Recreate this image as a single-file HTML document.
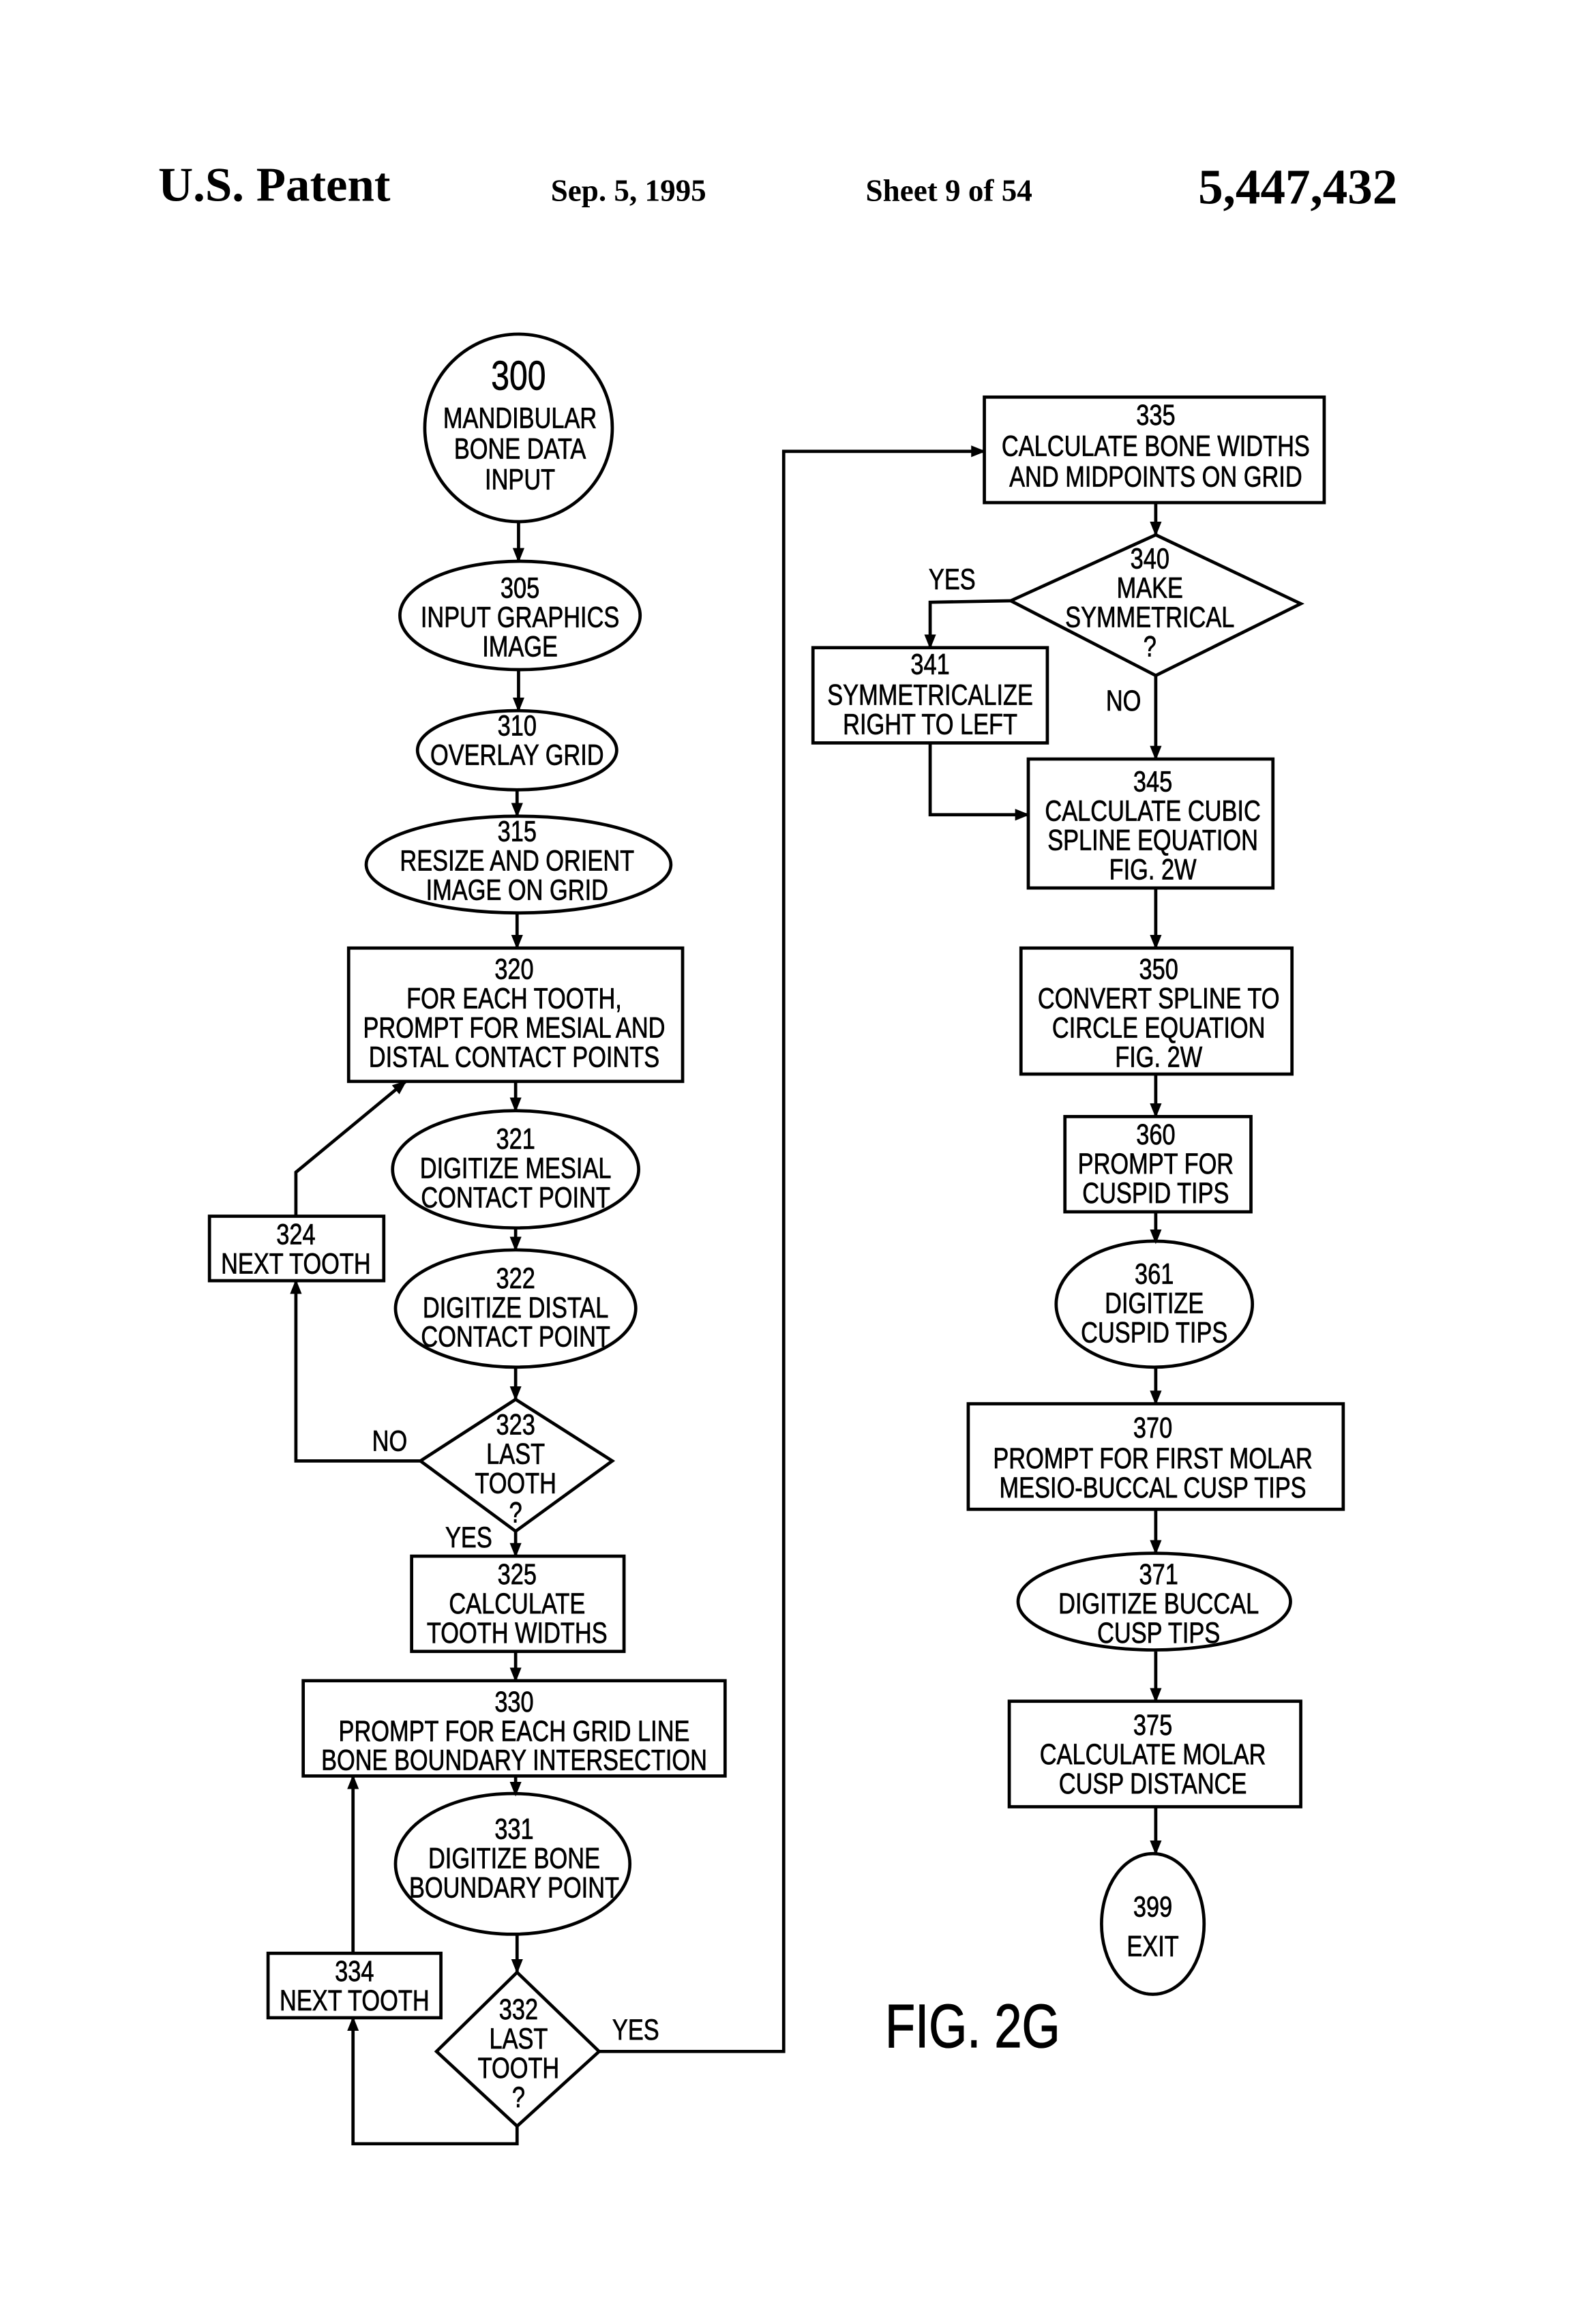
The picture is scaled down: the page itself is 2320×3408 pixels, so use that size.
<!DOCTYPE html>
<html><head><meta charset="utf-8"><style>
html,body{margin:0;padding:0;background:#fff;}
svg{display:block;}
.t{font-family:"Liberation Sans",sans-serif;font-size:20px;text-anchor:middle;fill:#000;stroke:#000;stroke-width:0.35;}
.h{font-family:"Liberation Serif",serif;font-weight:bold;fill:#000;}
.s{fill:none;stroke:#000;stroke-width:2.2;}
</style></head><body>
<svg width="2320" height="3408" viewBox="0 0 1080 1586" preserveAspectRatio="none" xmlns="http://www.w3.org/2000/svg">
<defs><marker id="a" markerWidth="10" markerHeight="10" refX="9" refY="5" orient="auto" markerUnits="userSpaceOnUse"><path d="M0,1 L10,5 L0,9 Z" fill="#000"/></marker></defs>
<text class="h" x="108" y="137" font-size="33">U.S. Patent</text>
<text class="h" x="376" y="137" font-size="21">Sep. 5, 1995</text>
<text class="h" x="591" y="137" font-size="21">Sheet 9 of 54</text>
<text class="h" x="818" y="139" font-size="34">5,447,432</text>

<g class="s">
<ellipse cx="354" cy="292" rx="64" ry="64"/>
<ellipse cx="355" cy="420" rx="82" ry="37"/>
<ellipse cx="353" cy="512" rx="68" ry="27"/>
<ellipse cx="354" cy="590" rx="104" ry="33"/>
<rect x="238" y="647" width="228" height="91"/>
<ellipse cx="352" cy="798" rx="84" ry="40"/>
<rect x="143" y="830" width="119" height="44"/>
<ellipse cx="352" cy="893" rx="82" ry="40"/>
<polygon points="352,955 418,997 352,1045 287,997"/>
<rect x="281" y="1062" width="145" height="65"/>
<rect x="207" y="1147" width="288" height="65"/>
<ellipse cx="350" cy="1272" rx="80" ry="48"/>
<rect x="183" y="1333" width="118" height="44"/>
<polygon points="353,1346 409,1400 353,1451 298,1400"/>

<rect x="672" y="271" width="232" height="72"/>
<polygon points="789,365 888,412 789,461 690,410"/>
<rect x="555" y="442" width="160" height="65"/>
<rect x="702" y="518" width="167" height="88"/>
<rect x="697" y="647" width="185" height="86"/>
<rect x="727" y="762" width="127" height="65"/>
<ellipse cx="788" cy="890" rx="67" ry="43"/>
<rect x="661" y="958" width="256" height="72"/>
<ellipse cx="788" cy="1093" rx="93" ry="33"/>
<rect x="689" y="1161" width="199" height="72"/>
<ellipse cx="787" cy="1313" rx="35" ry="48"/>

<line x1="354" y1="356" x2="354" y2="383" marker-end="url(#a)"/>
<line x1="354" y1="457" x2="354" y2="485" marker-end="url(#a)"/>
<line x1="353" y1="539" x2="353" y2="557" marker-end="url(#a)"/>
<line x1="353" y1="623" x2="353" y2="647" marker-end="url(#a)"/>
<line x1="352" y1="738" x2="352" y2="758" marker-end="url(#a)"/>
<line x1="352" y1="838" x2="352" y2="853" marker-end="url(#a)"/>
<line x1="352" y1="933" x2="352" y2="955" marker-end="url(#a)"/>
<line x1="352" y1="1045" x2="352" y2="1062" marker-end="url(#a)"/>
<line x1="352" y1="1127" x2="352" y2="1147" marker-end="url(#a)"/>
<line x1="352" y1="1212" x2="352" y2="1225" marker-end="url(#a)"/>
<line x1="353" y1="1320" x2="353" y2="1346" marker-end="url(#a)"/>
<polyline points="287,997 202,997 202,874" marker-end="url(#a)"/>
<polyline points="202,830 202,800 277,738" marker-end="url(#a)"/>
<polyline points="353,1451 353,1463 241,1463 241,1377" marker-end="url(#a)"/>
<polyline points="241,1333 241,1212" marker-end="url(#a)"/>
<polyline points="409,1400 535,1400 535,308 672,308" marker-end="url(#a)"/>

<line x1="789" y1="343" x2="789" y2="365" marker-end="url(#a)"/>
<polyline points="690,410 635,411 635,442" marker-end="url(#a)"/>
<line x1="789" y1="461" x2="789" y2="518" marker-end="url(#a)"/>
<polyline points="635,507 635,556 702,556" marker-end="url(#a)"/>
<line x1="789" y1="606" x2="789" y2="647" marker-end="url(#a)"/>
<line x1="789" y1="733" x2="789" y2="762" marker-end="url(#a)"/>
<line x1="789" y1="827" x2="789" y2="848" marker-end="url(#a)"/>
<line x1="789" y1="934" x2="789" y2="958" marker-end="url(#a)"/>
<line x1="789" y1="1030" x2="789" y2="1060" marker-end="url(#a)"/>
<line x1="789" y1="1127" x2="789" y2="1161" marker-end="url(#a)"/>
<line x1="789" y1="1233" x2="789" y2="1265" marker-end="url(#a)"/>
</g>

<g class="t" transform="scale(0.8 1)">
<text x="442.5" y="266" font-size="28">300</text>
<text x="443.75" y="292">MANDIBULAR</text><text x="443.75" y="313">BONE DATA</text><text x="443.75" y="334">INPUT</text>
<text x="443.75" y="408">305</text><text x="443.75" y="428">INPUT GRAPHICS</text><text x="443.75" y="448">IMAGE</text>
<text x="441.25" y="502">310</text><text x="441.25" y="522">OVERLAY GRID</text>
<text x="441.25" y="574">315</text><text x="441.25" y="594">RESIZE AND ORIENT</text><text x="441.25" y="614">IMAGE ON GRID</text>
<text x="438.75" y="668">320</text><text x="438.75" y="688">FOR EACH TOOTH,</text><text x="438.75" y="708">PROMPT FOR MESIAL AND</text><text x="438.75" y="728">DISTAL CONTACT POINTS</text>
<text x="440" y="784">321</text><text x="440" y="804">DIGITIZE MESIAL</text><text x="440" y="824">CONTACT POINT</text>
<text x="252.5" y="849">324</text><text x="252.5" y="869">NEXT TOOTH</text>
<text x="440" y="879">322</text><text x="440" y="899">DIGITIZE DISTAL</text><text x="440" y="919">CONTACT POINT</text>
<text x="440" y="979">323</text><text x="440" y="999">LAST</text><text x="440" y="1019">TOOTH</text><text x="440" y="1039">?</text>
<text x="332.5" y="990">NO</text><text x="400" y="1056">YES</text>
<text x="441.25" y="1081">325</text><text x="441.25" y="1101">CALCULATE</text><text x="441.25" y="1121">TOOTH WIDTHS</text>
<text x="438.75" y="1168">330</text><text x="438.75" y="1188">PROMPT FOR EACH GRID LINE</text><text x="438.75" y="1208">BONE BOUNDARY INTERSECTION</text>
<text x="438.75" y="1255">331</text><text x="438.75" y="1275">DIGITIZE BONE</text><text x="438.75" y="1295">BOUNDARY POINT</text>
<text x="302.5" y="1352">334</text><text x="302.5" y="1372">NEXT TOOTH</text>
<text x="442.5" y="1378">332</text><text x="442.5" y="1398">LAST</text><text x="442.5" y="1418">TOOTH</text><text x="442.5" y="1438">?</text>
<text x="542.5" y="1392">YES</text>
<text x="986.25" y="290">335</text><text x="986.25" y="311">CALCULATE BONE WIDTHS</text><text x="986.25" y="332">AND MIDPOINTS ON GRID</text>
<text x="981.25" y="388">340</text><text x="981.25" y="408">MAKE</text><text x="981.25" y="428">SYMMETRICAL</text><text x="981.25" y="448">?</text>
<text x="812.5" y="402">YES</text><text x="958.75" y="485">NO</text>
<text x="793.75" y="460">341</text><text x="793.75" y="481">SYMMETRICALIZE</text><text x="793.75" y="501">RIGHT TO LEFT</text>
<text x="983.75" y="540">345</text><text x="983.75" y="560">CALCULATE CUBIC</text><text x="983.75" y="580">SPLINE EQUATION</text><text x="983.75" y="600">FIG. 2W</text>
<text x="988.75" y="668">350</text><text x="988.75" y="688">CONVERT SPLINE TO</text><text x="988.75" y="708">CIRCLE EQUATION</text><text x="988.75" y="728">FIG. 2W</text>
<text x="986.25" y="781">360</text><text x="986.25" y="801">PROMPT FOR</text><text x="986.25" y="821">CUSPID TIPS</text>
<text x="985" y="876">361</text><text x="985" y="896">DIGITIZE</text><text x="985" y="916">CUSPID TIPS</text>
<text x="983.75" y="981">370</text><text x="983.75" y="1002">PROMPT FOR FIRST MOLAR</text><text x="983.75" y="1022">MESIO-BUCCAL CUSP TIPS</text>
<text x="988.75" y="1081">371</text><text x="988.75" y="1101">DIGITIZE BUCCAL</text><text x="988.75" y="1121">CUSP TIPS</text>
<text x="983.75" y="1184">375</text><text x="983.75" y="1204">CALCULATE MOLAR</text><text x="983.75" y="1224">CUSP DISTANCE</text>
<text x="983.75" y="1308">399</text><text x="983.75" y="1335">EXIT</text>
<text x="830" y="1397" font-size="42" stroke-width="0.6">FIG. 2G</text>
</g>
</svg>
</body></html>
